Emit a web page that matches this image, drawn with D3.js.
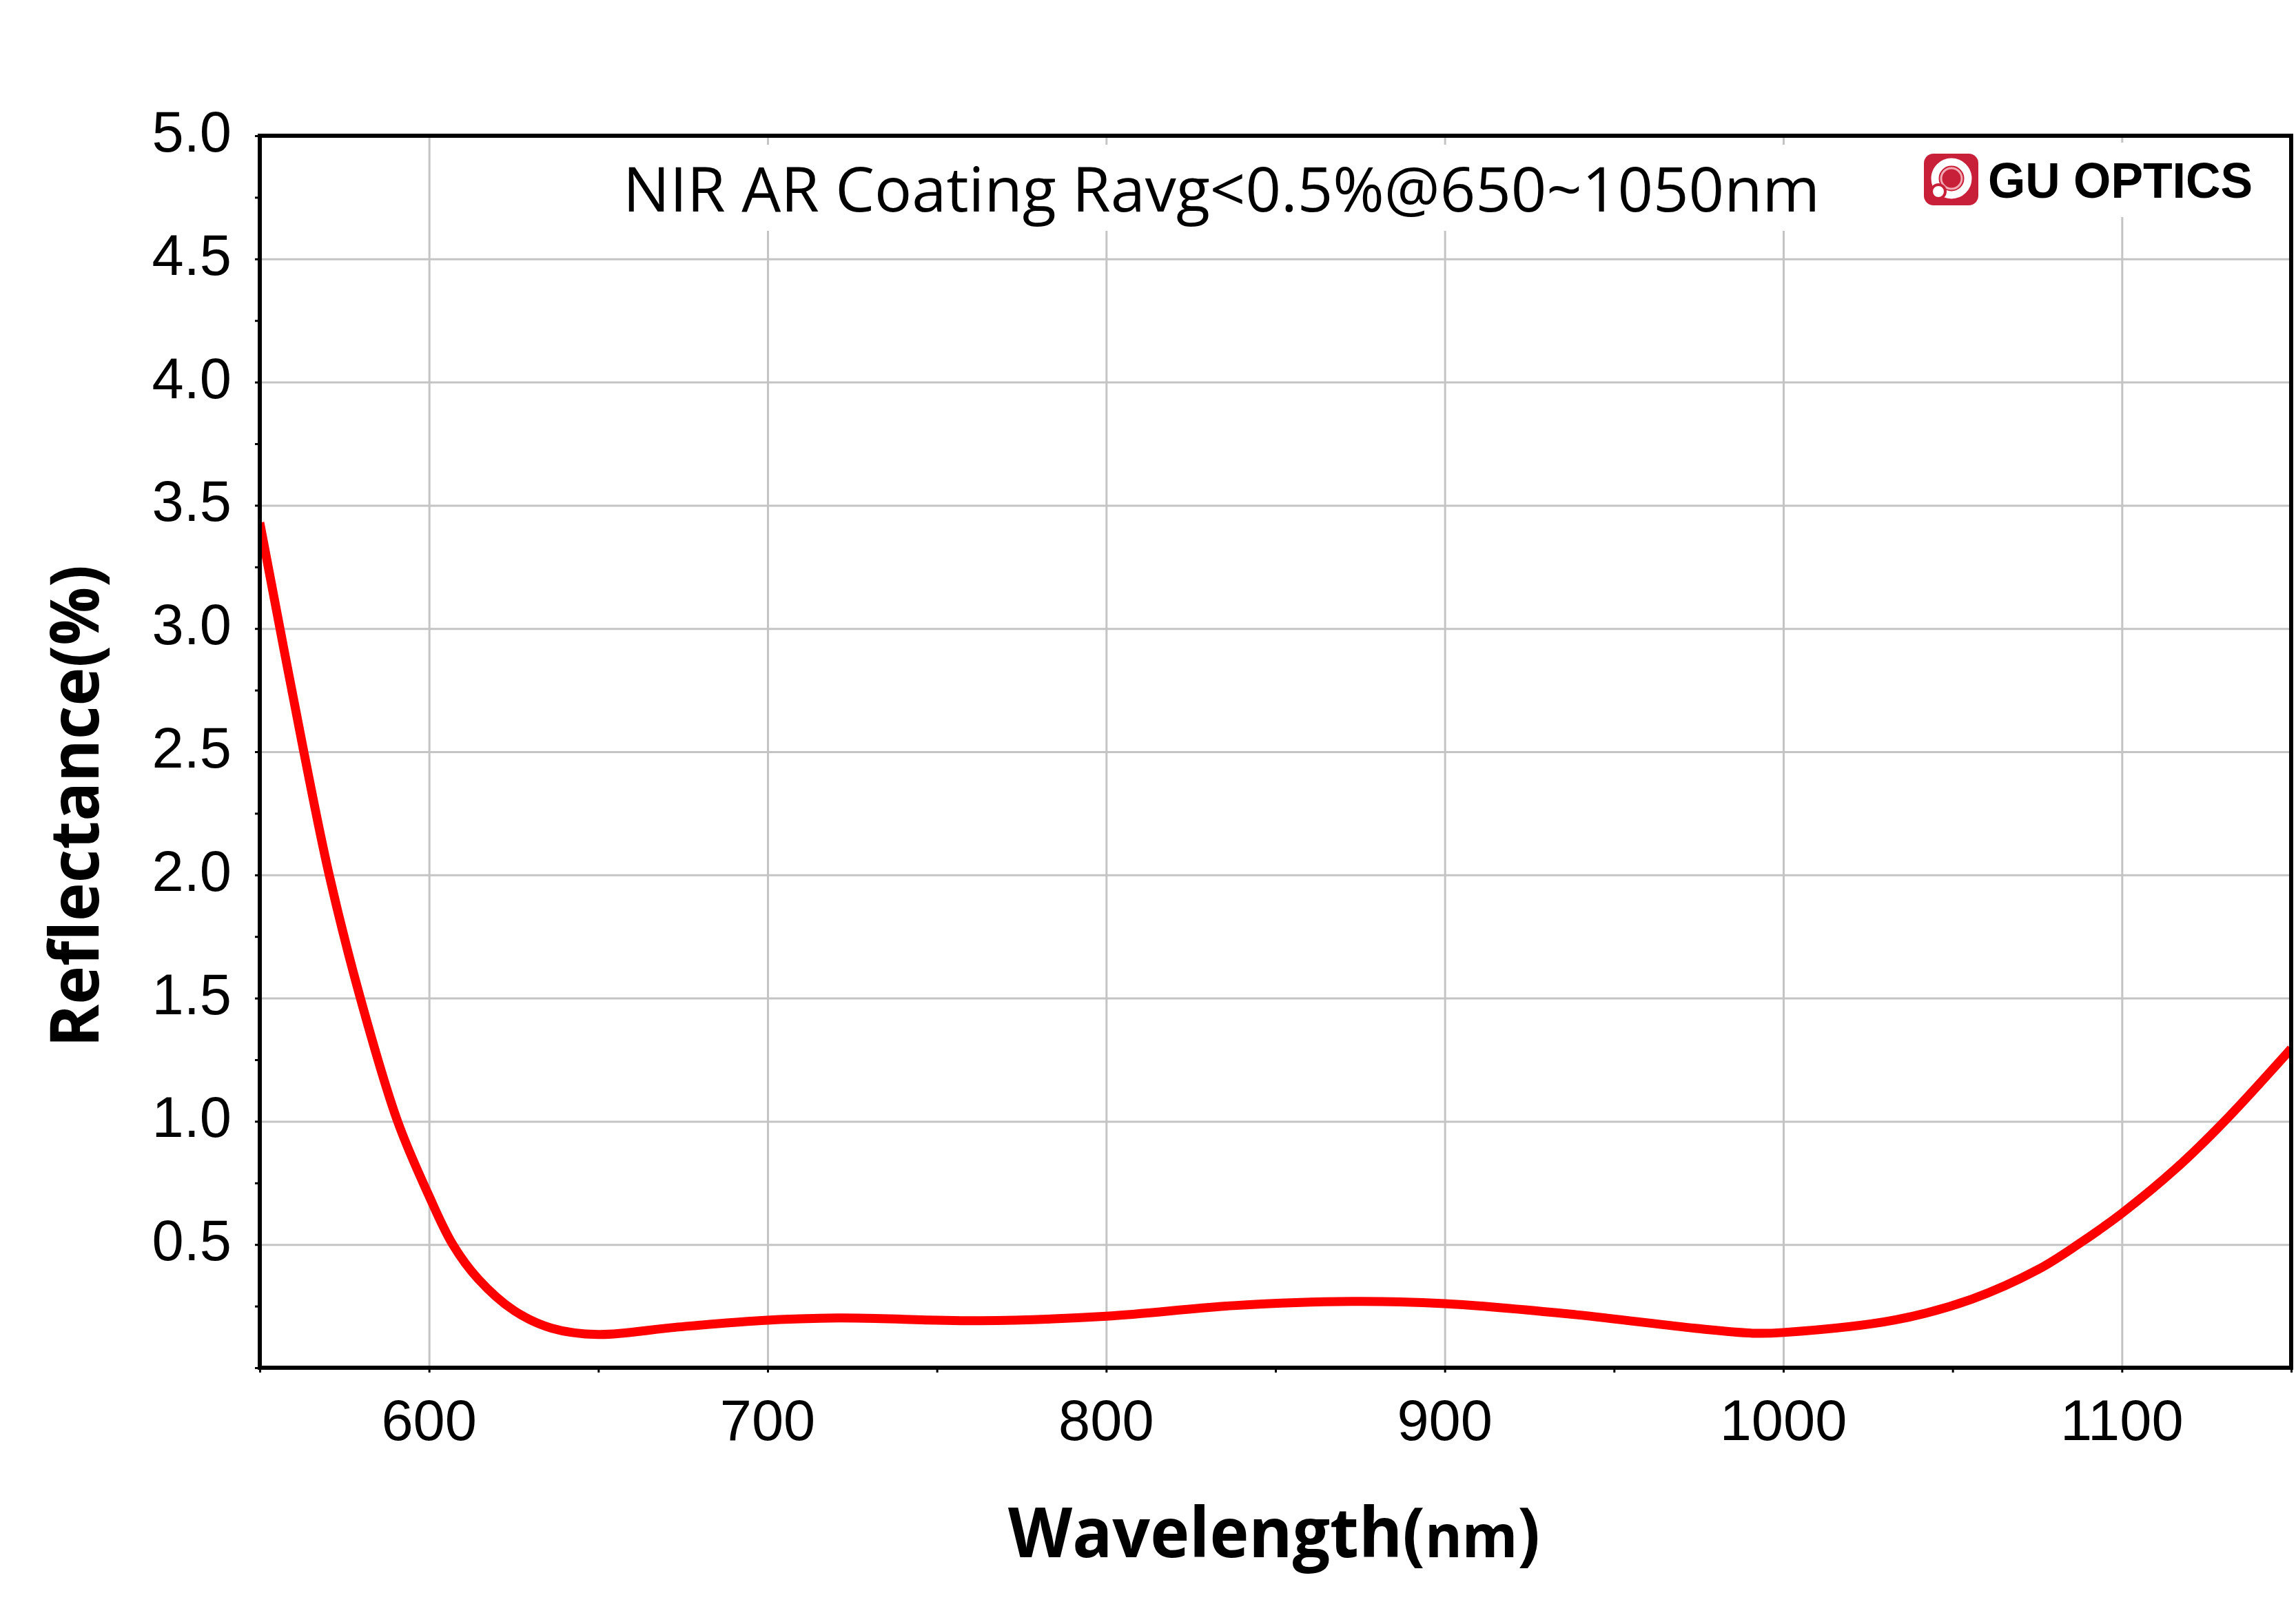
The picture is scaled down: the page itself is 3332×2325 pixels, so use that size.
<!DOCTYPE html>
<html lang="en">

<head>
    <title>NIR AR Coating</title>
    <meta charset="UTF-8">
    <script src="https://cdn.jsdelivr.net/npm/d3@7"></script>
    <style>
        body { margin: 0; background: #fff; }
        svg { display: block; }
    </style>
</head>

<body>
    <script>
        // data
        var wavelength = [550, 563, 570.5, 579.7, 590.7, 600, 607, 614.4, 625.2, 636.1, 650, 672.7, 697.4, 720.8, 762.7, 800, 837.6, 872.6, 900, 938.9, 974, 991.5, 1000, 1033, 1055.6, 1075.3, 1087, 1100, 1116, 1130.3, 1150];
        var reflectance = [3.43, 2.5, 2.0, 1.5, 1.0, 0.697, 0.5, 0.362, 0.231, 0.161, 0.135, 0.164, 0.191, 0.202, 0.191, 0.209, 0.252, 0.269, 0.26, 0.215, 0.16, 0.14, 0.143, 0.194, 0.278, 0.399, 0.5, 0.627, 0.809, 1.0, 1.295];
        var xTicks = [600, 700, 800, 900, 1000, 1100];
        var yTicks = [0.5, 1.0, 1.5, 2.0, 2.5, 3.0, 3.5, 4.0, 4.5, 5.0];
        var titleText = 'NIR AR Coating Ravg<0.5%@650~1050nm';

        var width = 3332,
            height = 2325;
        // plot box (note: "top" is reserved on window, so prefixed names)
        var pLeft = 377, pRight = 3325, pTop = 197, pBottom = 1985;

        var svg = d3.select('body').append('svg')
            .attr('width', width)
            .attr('height', height);

        var x = d3.scaleLinear().domain([550, 1150]).range([pLeft, pRight]);
        var y = d3.scaleLinear().domain([0, 5]).range([pBottom, pTop]);

        // grid
        svg.append('g')
            .attr('transform', 'translate(0,' + pBottom + ')')
            .call(d3.axisBottom(x).tickValues(xTicks).tickSize(-(pBottom - pTop)).tickFormat(''))
            .call(function(g) {
                g.select('.domain').remove();
                g.selectAll('line').attr('stroke', '#c4c4c4').attr('stroke-width', 3);
            });
        svg.append('g')
            .attr('transform', 'translate(' + pLeft + ',0)')
            .call(d3.axisLeft(y).tickValues(yTicks).tickSize(-(pRight - pLeft)).tickFormat(''))
            .call(function(g) {
                g.select('.domain').remove();
                g.selectAll('line').attr('stroke', '#c4c4c4').attr('stroke-width', 3);
            });

        // white boxes behind title and logo (they cut the grid)
        svg.append('rect').attr('x', 880).attr('y', 210).attr('width', 1790).attr('height', 125).attr('fill', '#fff');
        svg.append('rect').attr('x', 2770).attr('y', 207).attr('width', 540).attr('height', 108).attr('fill', '#fff');

        // minor ticks
        svg.append('g')
            .attr('transform', 'translate(0,' + pBottom + ')')
            .call(d3.axisBottom(x).tickValues(d3.range(550, 1151, 50)).tickSize(7).tickFormat(''))
            .call(function(g) {
                g.select('.domain').remove();
                g.selectAll('line').attr('stroke', '#000').attr('stroke-width', 3);
            });
        svg.append('g')
            .attr('transform', 'translate(' + pLeft + ',0)')
            .call(d3.axisLeft(y).tickValues(d3.range(0, 5.01, 0.25)).tickSize(7).tickFormat(''))
            .call(function(g) {
                g.select('.domain').remove();
                g.selectAll('line').attr('stroke', '#000').attr('stroke-width', 3);
            });

        // curve
        svg.append('clipPath').attr('id', 'clip')
            .append('rect').attr('x', pLeft).attr('y', pTop).attr('width', pRight - pLeft).attr('height', pBottom - pTop);

        var line = d3.line()
            .x(function(d, i) { return x(wavelength[i]) })
            .y(function(d) { return y(d) })
            .curve(d3.curveCatmullRom.alpha(0.5));

        svg.append('path')
            .datum(reflectance)
            .attr('clip-path', 'url(#clip)')
            .attr('d', line)
            .attr('fill', 'none')
            .attr('stroke', '#ff0000')
            .attr('stroke-width', 13)
            .attr('stroke-linejoin', 'round');

        // frame
        svg.append('rect')
            .attr('x', pLeft).attr('y', pTop)
            .attr('width', pRight - pLeft).attr('height', pBottom - pTop)
            .attr('fill', 'none').attr('stroke', '#000').attr('stroke-width', 6);

        // tick labels
        svg.append('g').selectAll('text')
            .data(xTicks).enter().append('text')
            .attr('x', function(d) { return x(d) })
            .attr('y', 2090)
            .attr('text-anchor', 'middle')
            .attr('font-family', 'Liberation Sans, Arial, sans-serif')
            .attr('font-size', 83)
            .text(function(d) { return d });
        svg.append('g').selectAll('text')
            .data(yTicks).enter().append('text')
            .attr('x', 336)
            .attr('y', function(d) { return y(d) + 23 })
            .attr('text-anchor', 'end')
            .attr('font-family', 'Liberation Sans, Arial, sans-serif')
            .attr('font-size', 83)
            .text(function(d) { return d3.format('.1f')(d) });

        // axis titles
        var xt = svg.append('text')
            .attr('x', 1849).attr('y', 2260)
            .attr('text-anchor', 'middle')
            .attr('font-family', 'Open Sans, sans-serif')
            .attr('font-weight', 'bold')
            .attr('font-size', 101)
            .attr('textLength', 772)
            .attr('lengthAdjust', 'spacingAndGlyphs');
        xt.append('tspan').text('Wavelength(');
        xt.append('tspan').attr('font-size', 86).text('nm');
        xt.append('tspan').text(')');

        svg.append('text')
            .attr('transform', 'translate(143,1170) rotate(-90)')
            .attr('text-anchor', 'middle')
            .attr('font-family', 'Open Sans, sans-serif')
            .attr('font-weight', 'bold')
            .attr('font-size', 99)
            .attr('textLength', 700)
            .attr('lengthAdjust', 'spacingAndGlyphs')
            .text('Reflectance(%)');

        // title
        svg.append('text')
            .attr('x', 904).attr('y', 307)
            .attr('font-family', 'Open Sans, sans-serif')
            .attr('font-size', 89)
            .attr('textLength', 1737)
            .attr('lengthAdjust', 'spacingAndGlyphs')
            .text(titleText);

        // logo
        var logo = svg.append('g');
        logo.append('rect').attr('x', 2792).attr('y', 223).attr('width', 79).attr('height', 75).attr('rx', 14).attr('fill', '#c9203a');
        logo.append('circle').attr('cx', 2832).attr('cy', 259).attr('r', 24).attr('fill', 'none').attr('stroke', '#fff').attr('stroke-width', 11);
        logo.append('circle').attr('cx', 2832).attr('cy', 259).attr('r', 15).attr('fill', 'none').attr('stroke', '#f2aab4').attr('stroke-width', 3);
        logo.append('circle').attr('cx', 2813).attr('cy', 278).attr('r', 10).attr('fill', '#fff').attr('stroke', '#c9203a').attr('stroke-width', 4);
        logo.append('text')
            .attr('x', 2885).attr('y', 287)
            .attr('font-family', 'Liberation Sans, Arial, sans-serif')
            .attr('font-weight', 'bold')
            .attr('font-size', 72)
            .attr('textLength', 384)
            .attr('lengthAdjust', 'spacingAndGlyphs')
            .text('GU OPTICS');
    </script>
</body>

</html>
